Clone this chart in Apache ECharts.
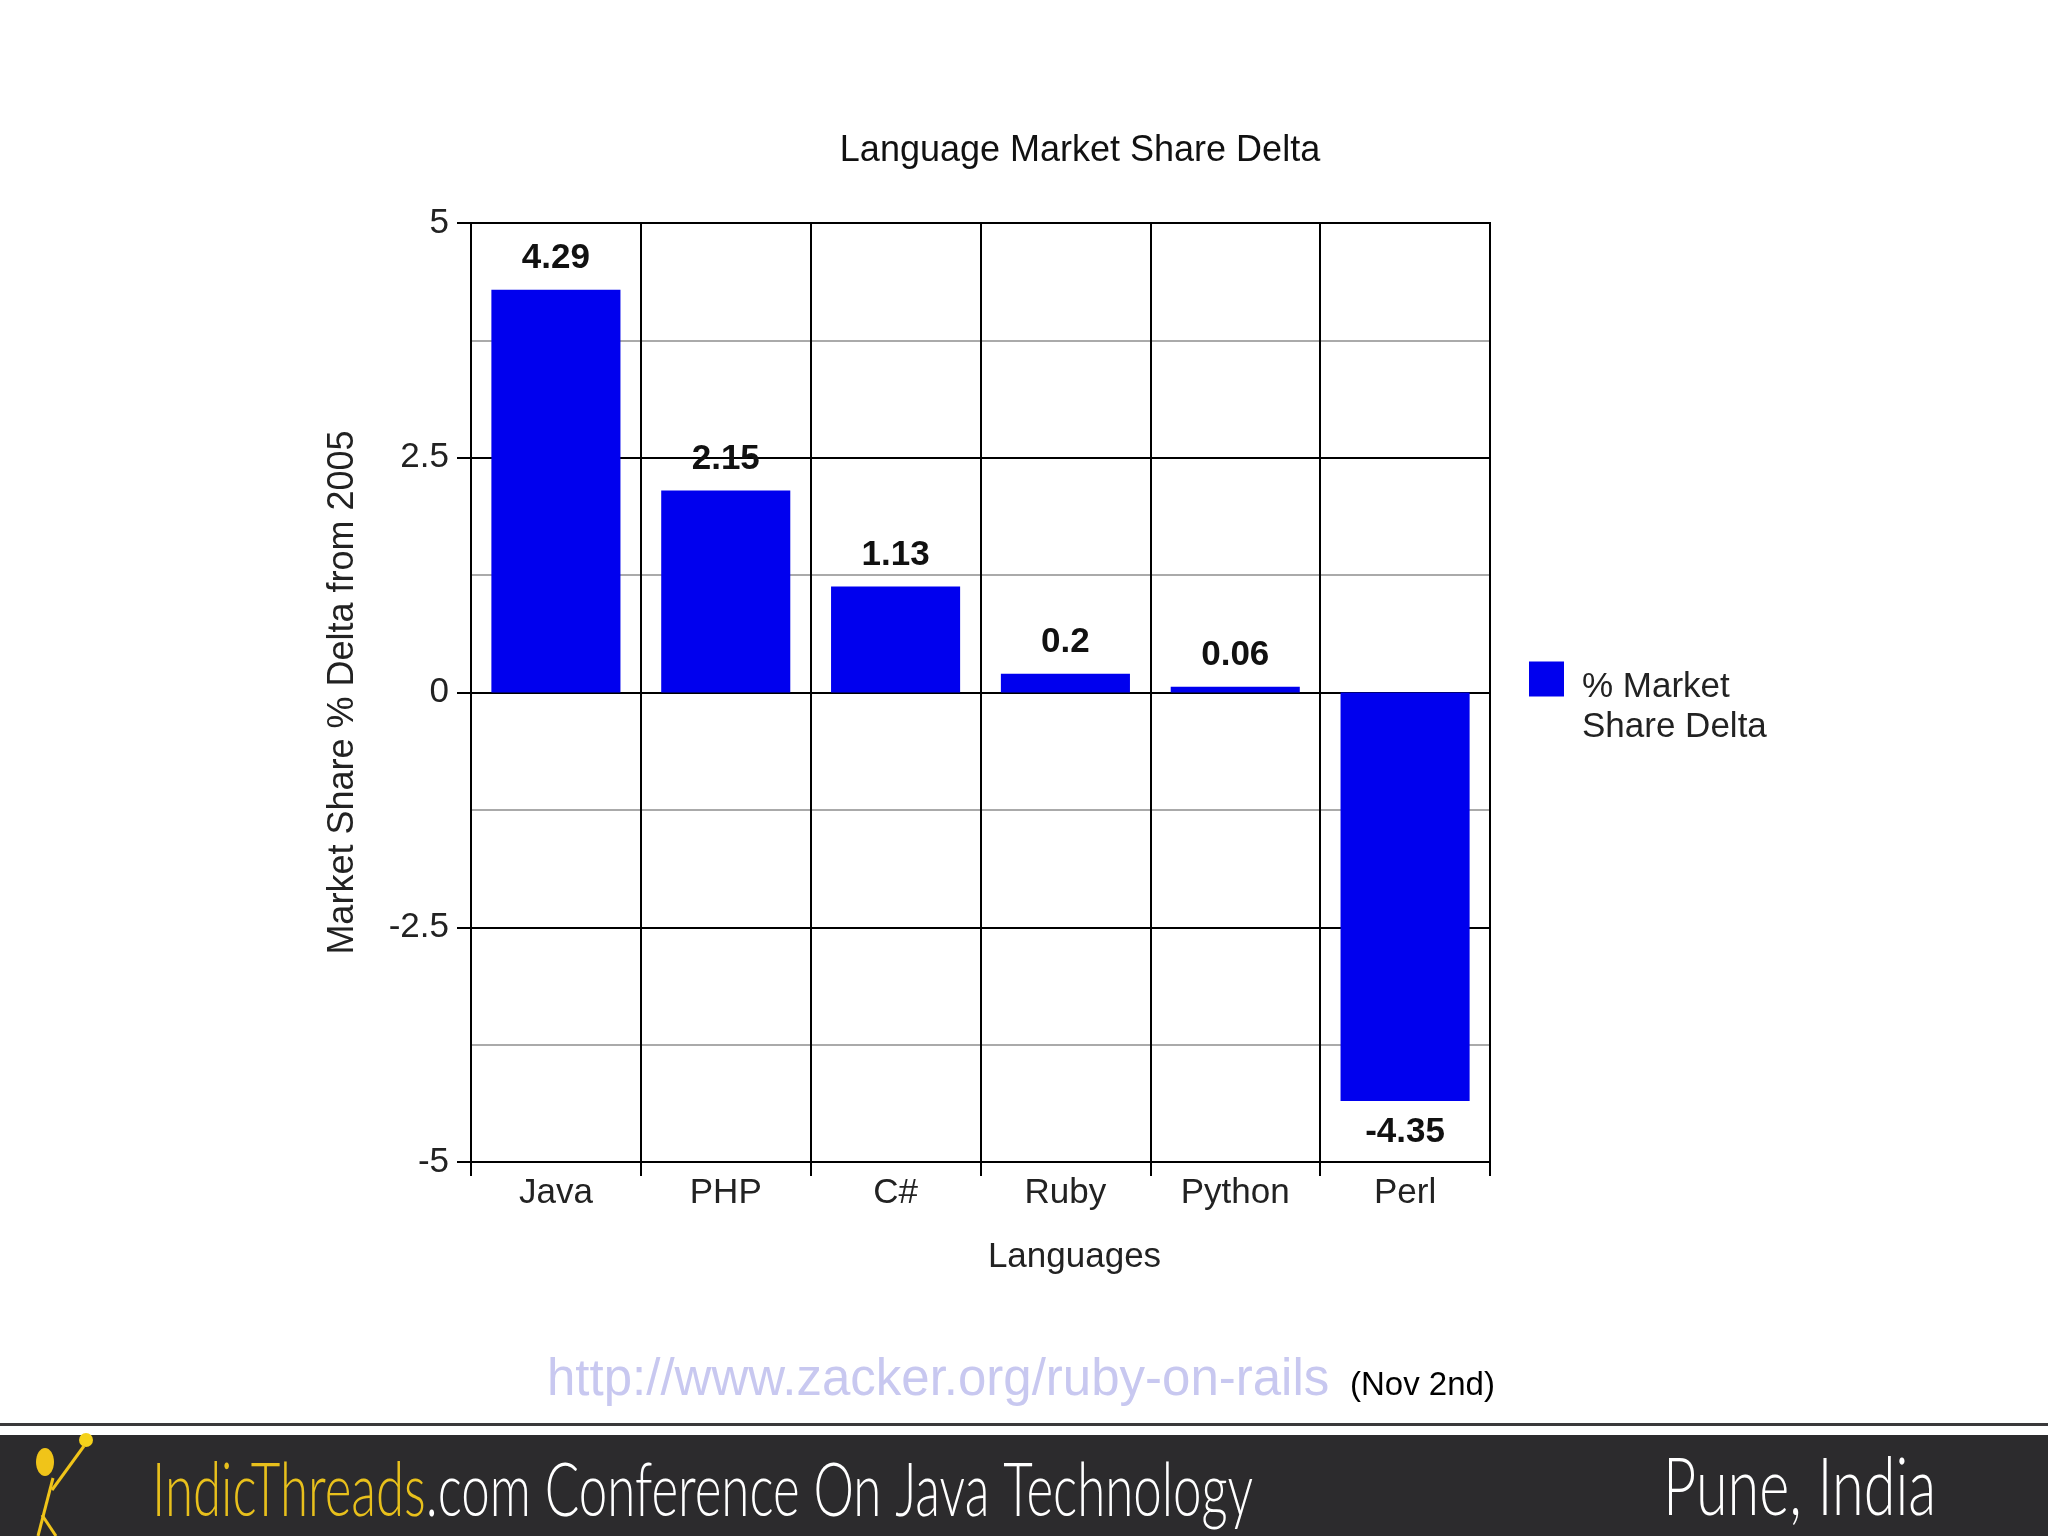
<!DOCTYPE html>
<html>
<head>
<meta charset="utf-8">
<script src="https://cdn.jsdelivr.net/npm/echarts@6/dist/echarts.min.js"></script>
<style>
html,body{margin:0;padding:0;background:#fff;}
#c{width:2048px;height:1536px;}
</style>
</head>
<body>
<div id="c"></div>
<script>
const categories = ['Java', 'PHP', 'C#', 'Ruby', 'Python', 'Perl'];
const values = [4.29, 2.15, 1.13, 0.2, 0.06, -4.35];
const seriesName = '% Market Share Delta';
const legendLines = ['% Market', 'Share Delta'];
const titleText = 'Language Market Share Delta';
const xName = 'Languages';
const yName = 'Market Share % Delta from 2005';
const yMin = -5, yMax = 5, yInterval = 2.5;
const urlText = 'http://www.zacker.org/ruby-on-rails';
const dateText = '(Nov 2nd)';

const FONT = 'Liberation Sans, Arial, sans-serif';
const chart = echarts.init(document.getElementById('c'), null, {renderer: 'canvas'});

const barData = values.map(v => ({
  value: v,
  label: {position: v < 0 ? 'bottom' : 'top'}
}));

const option = {
  backgroundColor: '#ffffff',
  animation: false,
  title: {
    text: titleText,
    left: 1075, top: 128,
    textAlign: 'center',
    textStyle: {fontFamily: FONT, fontSize: 36, fontWeight: 'normal', color: '#111'}
  },
  legend: {
    show: true,
    left: 1524, top: 629,
    itemWidth: 35, itemHeight: 35,
    icon: 'rect',
    data: [seriesName],
    formatter: () => '{s| }\n{a|' + legendLines[0] + '}\n{a|' + legendLines[1] + '}',
    textStyle: {
      fontFamily: FONT, fontSize: 35, color: '#222',
      rich: {
        s: {fontSize: 10, lineHeight: 56},
        a: {fontFamily: FONT, fontSize: 35, color: '#222', lineHeight: 40, padding: [0, 0, 0, 13]}
      }
    }
  },
  grid: {
    left: 471, right: 558, top: 223, bottom: 374,
    show: true, borderColor: '#000', borderWidth: 2, backgroundColor: 'transparent'
  },
  xAxis: {
    type: 'category',
    data: categories,
    name: xName,
    nameLocation: 'middle',
    nameGap: 78,
    nameTextStyle: {fontFamily: FONT, fontSize: 35, color: '#222', padding: [0, 0, 0, 188]},
    axisLine: {show: true, onZero: false, lineStyle: {color: '#000', width: 2}},
    axisTick: {show: true, interval: 0, length: 14, lineStyle: {color: '#000', width: 2}},
    axisLabel: {interval: 0, margin: 14, fontFamily: FONT, fontSize: 35, color: '#222'},
    splitLine: {show: true, interval: 0, lineStyle: {color: '#000', width: 2}}
  },
  yAxis: {
    type: 'value',
    min: yMin, max: yMax, interval: yInterval,
    name: yName,
    nameLocation: 'middle',
    nameGap: 110,
    nameTextStyle: {fontFamily: FONT, fontSize: 36, color: '#222'},
    axisLine: {show: true, lineStyle: {color: '#000', width: 2}},
    axisTick: {show: true, length: 14, lineStyle: {color: '#000', width: 2}},
    axisLabel: {margin: 22, fontFamily: FONT, fontSize: 35, color: '#222'},
    splitLine: {show: true, lineStyle: {color: '#000', width: 2}},
    minorTick: {show: false, splitNumber: 2},
    minorSplitLine: {show: true, lineStyle: {color: '#aaaaaa', width: 2}}
  },
  series: [{
    name: seriesName,
    type: 'bar',
    data: barData,
    barCategoryGap: '24%',
    itemStyle: {color: '#0000ee'},
    label: {
      show: true,
      distance: 14,
      fontFamily: FONT, fontSize: 35, fontWeight: 'bold', color: '#111'
    },
    z: 3
  }],
  graphic: [
    {type: 'text', left: 547, top: 1355,
     style: {text: urlText, font: '51px ' + FONT, fill: '#c8c8f0'}},
    {type: 'text', left: 1350, top: 1369,
     style: {text: dateText, font: '33px ' + FONT, fill: '#000'}},
    {type: 'rect', shape: {x: 0, y: 1423, width: 2048, height: 3}, style: {fill: '#3a393b'}},
    {type: 'rect', shape: {x: 0, y: 1435, width: 2048, height: 101}, style: {fill: '#2c2b2d'}},
    {type: 'text', x: 152, y: 1529, scaleX: 0.69,
     style: {
       text: '{y|IndicThreads}{w|.com Conference On Java Technology}',
       textVerticalAlign: 'bottom',
       rich: {
         y: {fontFamily: 'Lato, sans-serif', fontWeight: 300, fontSize: 74, fill: '#e8c01c'},
         w: {fontFamily: 'Lato, sans-serif', fontWeight: 300, fontSize: 74, fill: '#ffffff'}
       }
     }},
    {type: 'text', x: 1663, y: 1529, scaleX: 0.72,
     style: {text: 'Pune, India', fontFamily: 'Lato, sans-serif', fontWeight: 300, fontSize: 80, fill: '#ffffff', textVerticalAlign: 'bottom'}},
    {type: 'circle', shape: {cx: 86, cy: 1440, r: 7}, style: {fill: '#f5d21a'}},
    {type: 'ellipse', shape: {cx: 45, cy: 1462, rx: 9, ry: 14}, style: {fill: '#f0c419'}},
    {type: 'line', shape: {x1: 53, y1: 1478, x2: 38, y2: 1536}, style: {stroke: '#f0c419', lineWidth: 3}},
    {type: 'line', shape: {x1: 52, y1: 1490, x2: 84, y2: 1446}, style: {stroke: '#f0c419', lineWidth: 3}},
    {type: 'line', shape: {x1: 42, y1: 1515, x2: 56, y2: 1536}, style: {stroke: '#f0c419', lineWidth: 3}}
  ]
};
chart.setOption(option);
</script>
</body>
</html>
